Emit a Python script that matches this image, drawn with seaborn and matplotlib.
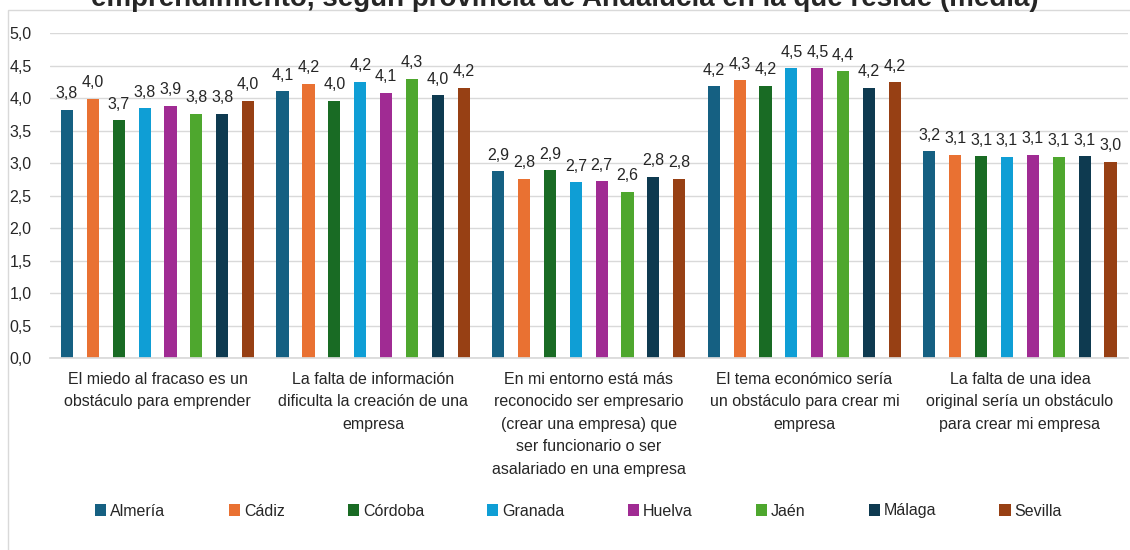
import numpy as np
import pandas as pd
import matplotlib
matplotlib.use("Agg")
import matplotlib.pyplot as plt
import seaborn as sns
from matplotlib.patches import Rectangle

categorias = [
    "El miedo al fracaso es un\nobstáculo para emprender",
    "La falta de información\ndificulta la creación de una\nempresa",
    "En mi entorno está más\nreconocido ser empresario\n(crear una empresa) que\nser funcionario o ser\nasalariado en una empresa",
    "El tema económico sería\nun obstáculo para crear mi\nempresa",
    "La falta de una idea\noriginal sería un obstáculo\npara crear mi empresa",
]
provincias = ["Almería", "Cádiz", "Córdoba", "Granada", "Huelva", "Jaén", "Málaga", "Sevilla"]

almeria = [3.82, 4.11, 2.87, 4.18, 3.18]
cadiz = [3.99, 4.22, 2.76, 4.27, 3.13]
cordoba = [3.66, 3.96, 2.89, 4.19, 3.11]
granada = [3.84, 4.25, 2.71, 4.46, 3.10]
huelva = [3.88, 4.08, 2.72, 4.46, 3.13]
jaen = [3.76, 4.30, 2.56, 4.41, 3.10]
malaga = [3.76, 4.04, 2.79, 4.16, 3.11]
sevilla = [3.96, 4.16, 2.76, 4.24, 3.02]

colores = ["#156082", "#E97132", "#196B24", "#0F9ED5", "#A02B93", "#4EA72E", "#0E3A50", "#974014"]

titulo = "emprendimiento, según provincia de Andalucía en la que reside (media)"

series = [almeria, cadiz, cordoba, granada, huelva, jaen, malaga, sevilla]
rows = []
for prov, vals in zip(provincias, series):
    for cat, v in zip(categorias, vals):
        rows.append({"categoria": cat, "provincia": prov, "media": v})
df = pd.DataFrame(rows)

sns.set_theme(style="white")
plt.rcParams["font.family"] = ["Liberation Sans", "DejaVu Sans"]

fig = plt.figure(figsize=(11.3, 5.5), dpi=100)
ax = fig.add_axes([0.044, 0.349, 0.954, 0.591])

sns.barplot(data=df, x="categoria", y="media", hue="provincia", order=categorias,
            hue_order=provincias, palette=colores, saturation=1, width=0.96, gap=0.53,
            linewidth=0, errorbar=None, ax=ax)

for cont in ax.containers:
    labels = [f"{b.get_height():.1f}".replace(".", ",") for b in cont]
    ax.bar_label(cont, labels=labels, padding=6, fontsize=11.5, color="#262626")

ax.set_ylim(0, 5)
ax.set_yticks(np.arange(0, 5.01, 0.5))
ax.set_yticklabels([f"{t:.1f}".replace(".", ",") for t in np.arange(0, 5.01, 0.5)])
ax.set_xlim(-0.5, 4.5)
ax.grid(axis="y", color="#D9D9D9", linewidth=1)
ax.set_axisbelow(True)
for s in ["top", "right", "left"]:
    ax.spines[s].set_visible(False)
ax.spines["bottom"].set_color("#D9D9D9")
ax.tick_params(axis="y", labelsize=11.5, labelcolor="#262626", length=0, pad=13)
ax.tick_params(axis="x", labelsize=11.5, labelcolor="#262626", length=0, pad=10)
for lbl in ax.get_xticklabels():
    lbl.set_linespacing(1.62)
ax.set_xlabel("")
ax.set_ylabel("")

handles, labels = ax.get_legend_handles_labels()
ax.get_legend().remove()
fig.legend(handles, labels, ncol=8, loc="center", bbox_to_anchor=(0.512, 1 - 511 / 550),
           frameon=False, fontsize=11.5, handlelength=0.7, handleheight=0.7,
           handletextpad=0.25, columnspacing=3.95, labelcolor="#262626")

fig.text(0.5, 1 - 6 / 550, titulo, ha="center", va="baseline", fontsize=20,
         fontweight="bold", color="#262626")

fig.patches.append(Rectangle((8 / 1130, -0.05), 1.1, 1 - 10 / 550 + 0.05,
                             transform=fig.transFigure, fill=False,
                             edgecolor="#D9D9D9", linewidth=1))

fig.savefig("out.png", dpi=100)
